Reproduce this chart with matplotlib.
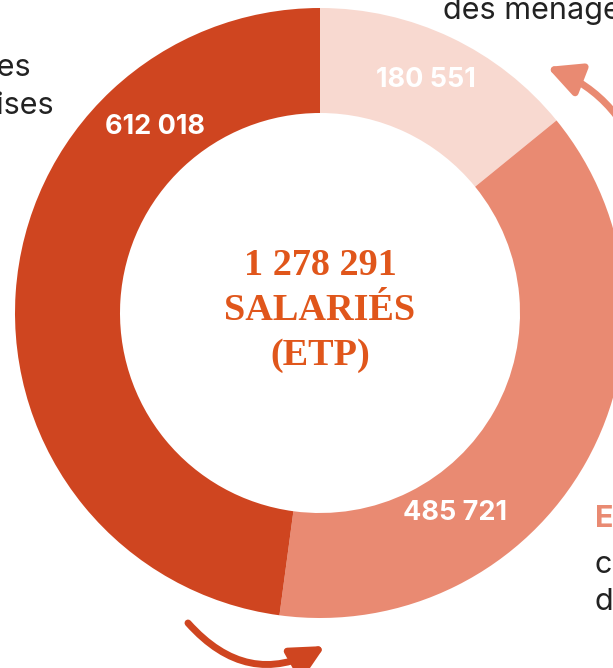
import matplotlib
matplotlib.use("Agg")
import matplotlib.pyplot as plt
from matplotlib.patches import FancyArrowPatch

# ---- data ----
segments = ["Ménages", "Entreprises clientes", "Entreprises"]
values = [180551, 485721, 612018]
value_labels = ["180 551", "485 721", "612 018"]
total_label = "1 278 291"
colors = ["#F8D9D0", "#E98A72", "#CF4520"]

W, H = 613, 668
fig = plt.figure(figsize=(W / 100, H / 100), dpi=100)
ax = fig.add_axes([0, 0, 1, 1])

cx, cy = 320, H - 313
R, width = 305, 105
ax.pie(values, colors=colors, startangle=90, counterclock=False,
       radius=R, center=(cx, cy),
       wedgeprops=dict(width=width, edgecolor="none", linewidth=0),
       frame=True)
ax.set_xlim(0, W)
ax.set_ylim(0, H)
ax.set_aspect("equal")
ax.axis("off")

sans = ["Inter", "DejaVu Sans"]
serif = ["Liberation Serif", "DejaVu Serif"]
dark_text = "#222222"
orange = "#E0561B"

# value labels
label_pos = {"180 551": (426, 80), "485 721": (455, 513), "612 018": (155, 127)}
for lab in value_labels:
    x, y = label_pos[lab]
    ax.text(x, H - y, lab, color="white", fontsize=19.5, fontweight="bold",
            family=sans, ha="center", va="center")

# centre text
for txt, base in [(total_label, 275), ("SALARIÉS", 320), ("(ETP)", 365)]:
    ax.text(cx, H - base, txt, color=orange, fontsize=27.5, fontweight="bold",
            family=serif, ha="center", va="baseline")

# side annotations (partly outside the canvas)
fs = 22
ax.text(31, H - 76, "Salariés des", color=dark_text, fontsize=fs, family=sans,
        ha="right", va="baseline")
ax.text(54, H - 114, "entreprises", color=dark_text, fontsize=fs, family=sans,
        ha="right", va="baseline")
ax.text(443, H - 19, "des ménages", color=dark_text, fontsize=fs, family=sans,
        ha="left", va="baseline")
ax.text(595, H - 527, "Entreprises", color=colors[1], fontsize=fs,
        fontweight="bold", family=sans, ha="left", va="baseline")
ax.text(595, H - 573, "clientes", color=dark_text, fontsize=fs, family=sans,
        ha="left", va="baseline")
ax.text(595, H - 610, "des ménages", color=dark_text, fontsize=fs, family=sans,
        ha="left", va="baseline")

# arrows
astyle = "-|>,head_length=20,head_width=10"
a1 = FancyArrowPatch((645, H - 175), (547, H - 67),
                     connectionstyle="arc3,rad=0.25",
                     arrowstyle=astyle, shrinkA=0, shrinkB=0,
                     mutation_scale=1, linewidth=5, color=colors[1],
                     clip_on=False)
ax.add_patch(a1)
a2 = FancyArrowPatch((188, H - 623), (325, H - 646),
                     connectionstyle="arc3,rad=0.4",
                     arrowstyle=astyle, shrinkA=0, shrinkB=0,
                     mutation_scale=1, linewidth=5, color=colors[2],
                     clip_on=False)
ax.add_patch(a2)

fig.savefig("out.png", dpi=100)
